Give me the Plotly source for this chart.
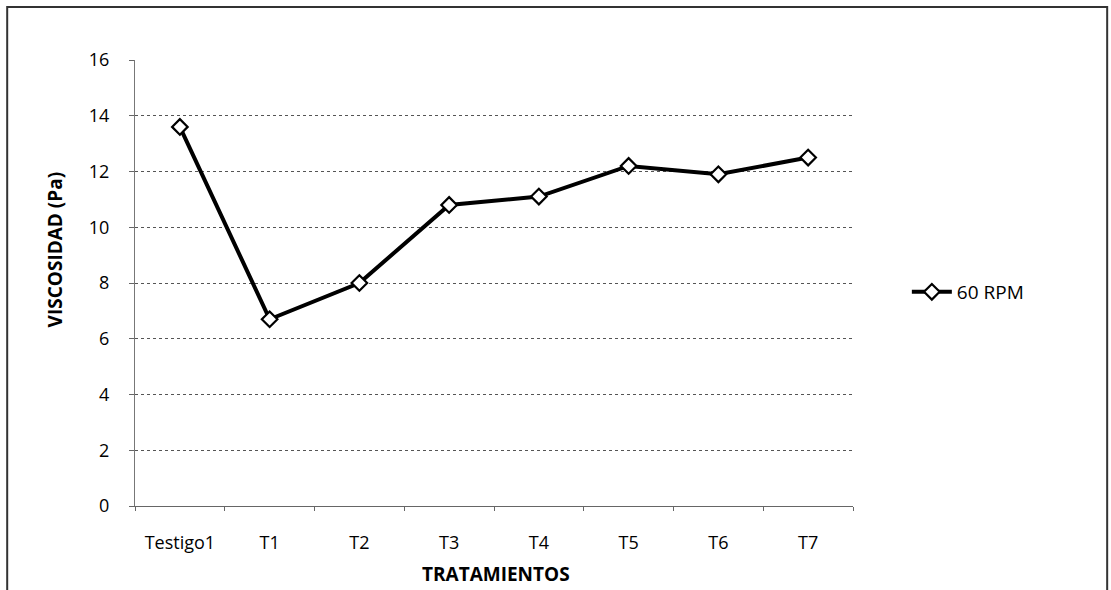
import plotly.graph_objects as go

categories = ["Testigo1", "T1", "T2", "T3", "T4", "T5", "T6", "T7"]
values_60rpm = [13.6, 6.7, 8.0, 10.8, 11.1, 12.2, 11.9, 12.5]
y_ticks = [0, 2, 4, 6, 8, 10, 12, 14, 16]
series_name = "60 RPM"
x_title = "TRATAMIENTOS"
y_title = "VISCOSIDAD (Pa)"

FONT = "'Open Sans', Lato, sans-serif"

fig = go.Figure()
fig.add_trace(go.Scatter(
    x=categories, y=values_60rpm, name=series_name,
    mode="lines+markers",
    line=dict(color="#000000", width=4),
    marker=dict(symbol="diamond", size=12, color="white",
                line=dict(color="#000000", width=2.2)),
))

fig.update_layout(
    width=1111, height=590,
    margin=dict(l=135, r=258, t=60, b=84),
    paper_bgcolor="white", plot_bgcolor="white",
    font=dict(family=FONT, size=18, color="#000000"),
    showlegend=True,
    legend=dict(x=1.075, y=0.48, xanchor="left", yanchor="middle",
                font=dict(size=19, color="#000000"), bgcolor="rgba(0,0,0,0)",
                itemwidth=40),
    xaxis=dict(
        type="category", range=[-0.5, 7.5],
        showgrid=False, showline=True, linecolor="#666666", linewidth=1,
        ticks="outside", ticklen=4, tickcolor="#666666",
        tickson="boundaries",
        ticklabelstandoff=20,
        tickfont=dict(size=18),
    ),
    yaxis=dict(
        range=[0, 16], tickvals=y_ticks,
        showgrid=True, gridcolor="#555555", griddash="dot", gridwidth=1,
        showline=True, linecolor="#777777", linewidth=1,
        ticks="outside", ticklen=5, tickcolor="#666666",
        ticklabelstandoff=16,
        tickfont=dict(size=18),
        zeroline=False,
    ),
)

# axis titles (placed as in the original chart)
fig.add_annotation(text="<b>" + y_title + "</b>", xref="paper", yref="paper",
                   x=-0.111, y=0.576, textangle=-90, showarrow=False,
                   font=dict(size=19), xanchor="center", yanchor="middle")
fig.add_annotation(text="<b>" + x_title + "</b>", xref="paper", yref="paper",
                   x=0.503, y=-0.152, showarrow=False,
                   font=dict(size=19), xanchor="center", yanchor="middle")

# outer frame of the chart
fig.add_shape(type="rect", xref="paper", yref="paper",
              x0=-0.178, x1=1.354, y0=-0.3, y1=1.119,
              line=dict(color="#333333", width=2), layer="below")

fig.write_html(
    "out.html",
    config={"displayModeBar": False},
    post_script="document.body.style.margin='0';document.body.style.overflow='hidden';",
)
